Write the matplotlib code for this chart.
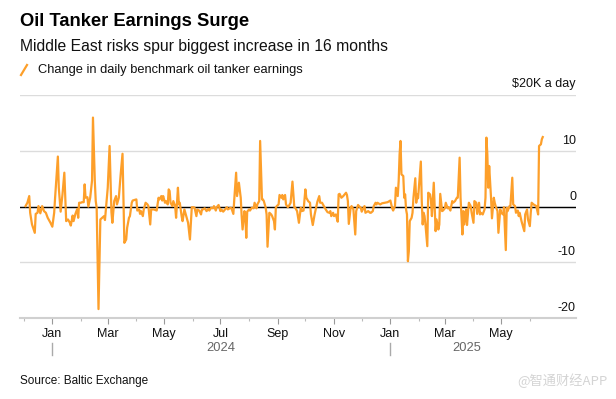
import matplotlib
matplotlib.use("Agg")
import matplotlib.pyplot as plt
from matplotlib.lines import Line2D
import matplotlib.dates as mdates
import pandas as pd

# Daily change in benchmark oil tanker earnings ($K a day).
# Dates are given as days counted from 2024-01-01.
days = [
    -29, -27, -25, -24, -22, -19, -18, -16, -15, -13, -11, -9, -7, -5, -2, 0,
    2, 3, 6, 7, 9, 11, 13, 14, 15, 17, 19, 20, 22, 23, 25, 27, 28, 29, 31, 32,
    34, 35, 36, 38, 39, 41, 43, 44, 46, 47, 48, 50, 52, 54, 56, 57, 58, 60, 62,
    64, 65, 67, 69, 70, 72, 74, 76, 77, 78, 80, 81, 83, 84, 86, 87, 89, 91, 92,
    94, 95, 96, 98, 99, 101, 103, 104, 106, 107, 110, 113, 115, 116, 118, 119,
    120, 122, 123, 125, 126, 127, 128, 130, 131, 133, 134, 136, 137, 138, 140,
    141, 143, 144, 146, 147, 149, 151, 153, 154, 156, 157, 159, 161, 162, 163,
    165, 167, 169, 170, 172, 174, 175, 177, 178, 180, 182, 183, 185, 187, 189,
    190, 193, 194, 196, 197, 199, 200, 202, 204, 205, 206, 208, 209, 210, 211,
    213, 214, 216, 218, 219, 221, 222, 224, 225, 227, 228, 229, 231, 232, 233,
    235, 237, 238, 240, 241, 242, 243, 245, 246, 248, 249, 250, 252, 253, 255,
    256, 258, 260, 262, 263, 265, 267, 269, 270, 272, 274, 275, 277, 279, 280,
    282, 284, 286, 287, 289, 290, 292, 294, 296, 298, 300, 301, 302, 304, 305,
    307, 309, 310, 311, 313, 315, 318, 319, 320, 321, 323, 324, 326, 328, 329,
    331, 332, 334, 335, 337, 338, 339, 341, 342, 344, 345, 347, 348, 350, 351,
    352, 355, 356, 357, 360, 363, 366, 368, 369, 371, 372, 374, 375, 376, 377,
    378, 380, 381, 382, 383, 384, 385, 386, 387, 389, 390, 391, 393, 394, 395,
    396, 399, 400, 401, 402, 403, 404, 406, 407, 409, 410, 411, 412, 413, 415,
    416, 418, 419, 420, 422, 423, 425, 426, 428, 429, 431, 433, 434, 436, 438,
    439, 441, 442, 444, 445, 446, 448, 449, 451, 452, 453, 454, 456, 457, 459,
    460, 462, 463, 464, 466, 468, 469, 470, 471, 472, 473, 475, 476, 478, 479,
    480, 482, 483, 485, 486, 488, 489, 491, 492, 493, 495, 496, 498, 499, 501,
    502, 504, 505, 506, 508, 509, 511, 512, 514, 515, 517, 518, 519, 521, 522,
    524, 526, 527, 529, 530, 531,
]
change = [
    0.1, 0.7, 1.9, -1.1, -3.2, -4.7, -1.3, -1.1, 0.1, -1.2, 0.1, -0.8, -1.1, -2.0, -2.9, -3.6,
    -1.1, 1.6, 9.0, 3.4, -0.9, 2.2, 6.1, 1.6, -2.6, -2.3, -2.9, -3.4, -1.6, -2.6, -1.3, -0.4, -2.0, 0.7, 0.7, 0.8,
    0.8, 4.0, 1.6, 1.7, 0.0, 1.6, 4.7, 16.0, 4.6, 1.0, -0.2, -18.4, -2.3, -2.0, -1.7, -2.4, -0.5, 3.4, 10.9,
    -1.0, -2.9, 1.0, 1.9, 0.4, 1.6, 5.8, 9.5, 1.6, -6.5, -5.9, -3.8, -2.0, -1.7, 0.7, 1.1, 1.2, 1.3, -0.7,
    -0.5, -1.3, -0.8, -1.7, -0.5, 0.7, 0.4, 0.1, -3.2, -0.5, -0.5, -0.7, 1.6, 1.3, 1.9, 1.1,
    1.9, 0.7, 1.0, 0.4, 3.1, 2.8, 0.7, 0.1, 1.0, 0.1, -2.0, 3.4, 0.4, 0.7, -1.7,
    -2.6, -0.5, -1.1, -2.3, -2.9, -5.9, -0.1, -0.1, -0.2, -1.7, -0.5, -0.7, -1.4, -0.5, -0.5,
    -0.3, -0.8, -0.4, -0.7, -0.2, -0.3, 0.1, -0.7, -0.1, 0.3, -0.8, -0.5, -0.9, -0.5, -0.1,
    -0.5, -0.2, -0.3, -1.3, 1.3, 6.1, 1.9, 4.3, 1.6, -1.7, -4.1, -0.8, -1.7, -5.6, -0.9,
    -0.5, -0.7, -0.2, -0.3, 0.7, -0.3, 0.4, 1.0, 11.8, 1.3, 1.3, 1.0, -0.2, -1.4, -7.2,
    -1.1, -1.4, -1.7, -2.6, -4.1, -0.2, 0.1, 0.4, 2.1, 1.6, 2.1, 1.3, 2.1, 0.4, -0.1,
    0.1, 0.7, 4.5, -0.1, -0.2, -0.8, -2.9, -0.2, -0.8, -0.7, 3.1, 1.6, 1.0, 0.7, -1.4,
    -3.3, -1.4, 0.1, 0.9, 1.9, 0.7, 0.7, 0.1, -0.5, -1.0, -1.1, -0.8, -1.7, -1.1, -1.7,
    -1.4, -2.7, 2.2, 2.3, 1.6, 1.9, 2.5, 2.1, 1.0, -3.1, -0.2, 0.1, -0.5, -5.0, -0.8,
    0.3, 0.1, -0.2, -0.9, -0.2, 0.1, -1.1, -0.9, -0.8, -1.1, -1.1, -0.8, 0.1, 0.7, 0.4,
    0.7, 0.4, 0.5, 0.6, 0.7, 0.8, 1.1, -0.3, -0.7, 0.1, 3.4, 1.9, 4.6, 9.4, 11.8,
    5.8, 5.5, 1.6, 2.2, -0.5, -1.4, -9.8, -8.0, -2.6, -2.0, -1.1, 1.6, 5.1, 0.7, 2.2,
    1.5, 8.1, 1.0, -3.2, -1.1, -1.7, -3.2, -7.1, 2.5, 2.2, 1.0, -1.7, 1.3, 4.3, -4.4,
    -2.3, -4.1, -3.2, 2.3, -0.8, -0.7, -0.3, 0.7, -0.3, -0.1, -0.7, 1.0, 0.7, 1.0, 1.6,
    1.6, 8.8, 1.6, -5.0, -0.8, -3.2, -0.5, -3.3, 0.7, 0.4, 0.1, -1.1, -2.9, 1.0, 0.7,
    -1.3, 0.7, -1.4, -1.1, -1.4, -0.5, 1.6, 12.4, 9.4, 3.4, 7.3, 1.6, -2.1, 1.6, 0.7,
    0.1, -0.8, -4.7, -0.5, -1.1, -1.4, -0.1, -7.8, -0.2, -0.8, 0.1, 0.1, 5.2, 0.4, 0.1,
    -1.1, -0.7, -1.7, -1.1, -2.6, -3.2, -4.4, -1.4, -0.5, -2.3, -3.5, -1.1, 0.7, 0.4, 0.3,
    0.1, -1.4, 10.9, 11.2, 12.1, 12.5,
]

y_ticks = [-20, -10, 0, 10]
y_labels = ["-20", "-10", "0", "10"]
month_ticks = pd.date_range("2024-01-01", "2025-05-01", freq="2MS")
minor_ticks = pd.date_range("2023-12-01", "2025-06-01", freq="2MS")
years = ["2024", "2025"]
year_centers = ["2024-07-01", "2025-03-25"]
year_starts = ["2024-01-01", "2025-01-01"]

dates = pd.Timestamp("2024-01-01") + pd.to_timedelta(days, unit="D")

plt.rcParams["font.family"] = ["Liberation Sans", "DejaVu Sans"]

W, H = 616, 399
fig = plt.figure(figsize=(W / 100, H / 100), dpi=100)
ax = fig.add_axes([20 / W, 1 - 318 / H, 556 / W, 222.7 / H])

# Line
ax.plot(dates, change, color="#fd9f2a", lw=1.6, solid_joinstyle="round", zorder=3)

# Axes limits and grid
ax.set_xlim(pd.Timestamp("2023-11-27"), pd.Timestamp("2025-07-21"))
ax.set_ylim(-20, 20)
ax.set_yticks([-20, -10, 0, 10, 20])
ax.yaxis.grid(True, color="#dcdcdc", lw=1.0)
ax.set_axisbelow(True)
ax.axhline(0, color="black", lw=1.0, zorder=2)
ax.tick_params(axis="y", length=0, labelleft=False)
for side in ["top", "left", "right"]:
    ax.spines[side].set_visible(False)
ax.spines["bottom"].set_color("#d0d0d0")
ax.spines["bottom"].set_linewidth(1.5)

# Y labels sit above the gridlines on the right
for v, lab in zip(y_ticks, y_labels):
    ax.text(1.0, v + 0.7, lab, transform=ax.get_yaxis_transform(),
            ha="right", va="bottom", fontsize=9, color="#111111")
ax.text(1.0, 20 + 0.9, "$20K a day", transform=ax.get_yaxis_transform(),
        ha="right", va="bottom", fontsize=9, color="#111111")

# X axis: months
ax.set_xticks(month_ticks)
ax.set_xticks(minor_ticks, minor=True)
ax.xaxis.set_major_formatter(mdates.DateFormatter("%b"))
ax.tick_params(axis="x", which="major", length=4.5, width=0.8, color="#999999",
               labelsize=9, pad=3, labelcolor="#111111")
ax.tick_params(axis="x", which="minor", length=2.5, width=0.8, color="#bbbbbb")

# Year labels and separators
for lab, c in zip(years, year_centers):
    ax.text(pd.Timestamp(c), -0.133, lab, transform=ax.get_xaxis_transform(),
            ha="center", va="center", fontsize=9.3, color="#666666")
for s in year_starts:
    ax.plot([pd.Timestamp(s)] * 2, [-0.112, -0.166], transform=ax.get_xaxis_transform(),
            color="#aaaaaa", lw=1.0, clip_on=False)

# Titles and legend
fig.text(20 / W, 1 - 21 / H, "Oil Tanker Earnings Surge", fontsize=13.2,
         fontweight="bold", va="center", ha="left", color="#000000")
fig.text(20 / W, 1 - 46 / H, "Middle East risks spur biggest increase in 16 months",
         fontsize=11.3, va="center", ha="left", color="#111111")
fig.add_artist(Line2D([21 / W, 27 / W], [1 - 75 / H, 1 - 65 / H],
                      color="#fd9f2a", lw=1.6, transform=fig.transFigure))
fig.text(38 / W, 1 - 70 / H, "Change in daily benchmark oil tanker earnings",
         fontsize=9.3, va="center", ha="left", color="#111111")

fig.text(20 / W, 1 - 381 / H, "Source: Baltic Exchange", fontsize=8.5,
         va="center", ha="left", color="#111111")
fig.text(608 / W, 1 - 381 / H, "@智通财经APP", fontsize=9.5, va="center", ha="right",
         color="#d4d4d4", family=["Noto Sans CJK SC", "DejaVu Sans"])

fig.savefig("out.png", dpi=100)
